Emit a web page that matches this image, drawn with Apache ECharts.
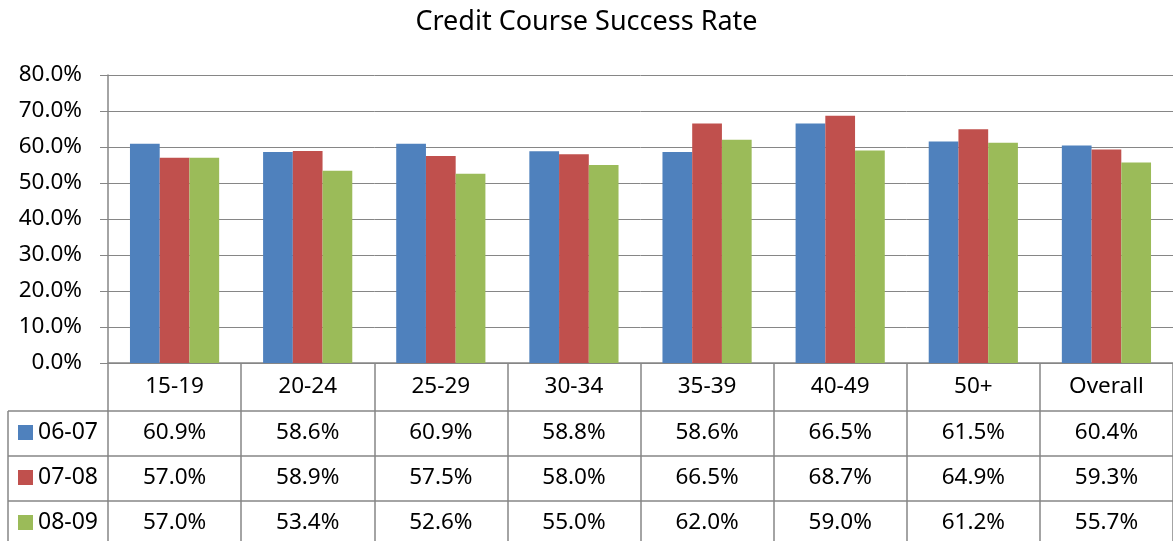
<!DOCTYPE html>
<html>
<head>
<meta charset="utf-8">
<script src="https://cdn.jsdelivr.net/npm/echarts@6/dist/echarts.min.js"></script>
<style>
  html, body { margin: 0; padding: 0; background: #fff; }
  #main { width: 1173px; height: 541px; }
</style>
</head>
<body>
<div id="main"></div>
<script>
// 数据
const categories = ['15-19', '20-24', '25-29', '30-34', '35-39', '40-49', '50+', 'Overall'];
const seriesNames = ['06-07', '07-08', '08-09'];
const rate0607 = [60.9, 58.6, 60.9, 58.8, 58.6, 66.5, 61.5, 60.4];
const rate0708 = [57.0, 58.9, 57.5, 58.0, 66.5, 68.7, 64.9, 59.3];
const rate0809 = [57.0, 53.4, 52.6, 55.0, 62.0, 59.0, 61.2, 55.7];
const colors = ['#4F81BD', '#C0504D', '#9BBB59'];

const FONT = 'Noto Sans';
const GRAY = '#868686';
const SIZE = 22.5;
const fmt = v => v.toFixed(1) + '%';

let myChart = echarts.init(document.getElementById('main'));

// 数据表的每一行用一条额外的类目轴来显示
function tableRow(values, offset) {
	return {
		type: 'category',
		position: 'bottom',
		offset: offset,
		data: values.map(fmt),
		axisLine: { show: true, lineStyle: { color: GRAY, width: 1.5 } },
		axisTick: { show: false },
		axisLabel: {
			margin: 22,
			verticalAlign: 'middle',
			color: '#000',
			fontFamily: FONT,
			fontSize: SIZE
		}
	};
}

// 左侧图例格子
function legendCell(name, top) {
	return {
		data: [name],
		left: 18,
		top: top,
		padding: 0,
		icon: 'rect',
		itemWidth: 15,
		itemHeight: 15,
		itemGap: 0,
		selectedMode: false,
		textStyle: { color: '#000', fontFamily: FONT, fontSize: 23 }
	};
}

let option = {
	color: colors,
	animation: false,
	title: {
		text: 'Credit Course Success Rate',
		left: 'center',
		top: 4,
		textStyle: { color: '#000', fontFamily: FONT, fontWeight: 'normal', fontSize: 27 }
	},
	legend: [
		legendCell(seriesNames[0], 421),
		legendCell(seriesNames[1], 466),
		legendCell(seriesNames[2], 511)
	],
	grid: { left: 108, right: -3, top: 75, bottom: 178 },
	xAxis: [
		{
			type: 'category',
			data: categories,
			axisLine: { lineStyle: { color: GRAY, width: 1.5 } },
			axisTick: { show: true, length: 178, lineStyle: { color: GRAY, width: 1.5 } },
			axisLabel: {
				margin: 24,
				verticalAlign: 'middle',
				color: '#000',
				fontFamily: FONT,
				fontSize: SIZE
			}
		},
		tableRow(rate0607, 48),
		tableRow(rate0708, 93),
		tableRow(rate0809, 138)
	],
	yAxis: {
		type: 'value',
		min: 0,
		max: 80,
		interval: 10,
		axisLine: { show: true, lineStyle: { color: GRAY, width: 1.5 } },
		axisTick: { show: true, length: 8, lineStyle: { color: GRAY } },
		splitLine: { lineStyle: { color: GRAY, width: 1 } },
		axisLabel: {
			margin: 26,
			color: '#000',
			fontFamily: FONT,
			fontSize: SIZE,
			formatter: fmt
		}
	},
	// 图例列的表格线
	graphic: [
		{ type: 'line', shape: { x1: 8, y1: 411, x2: 108, y2: 411 }, style: { stroke: GRAY, lineWidth: 1.5 } },
		{ type: 'line', shape: { x1: 8, y1: 456, x2: 108, y2: 456 }, style: { stroke: GRAY, lineWidth: 1.5 } },
		{ type: 'line', shape: { x1: 8, y1: 501, x2: 108, y2: 501 }, style: { stroke: GRAY, lineWidth: 1.5 } },
		{ type: 'line', shape: { x1: 8, y1: 411, x2: 8, y2: 541 }, style: { stroke: GRAY, lineWidth: 1.5 } }
	],
	series: [rate0607, rate0708, rate0809].map((d, i) => ({
		name: seriesNames[i],
		type: 'bar',
		xAxisIndex: 0,
		data: d,
		barGap: '0%',
		barCategoryGap: '33%'
	}))
};

myChart.setOption(option);
</script>
</body>
</html>
